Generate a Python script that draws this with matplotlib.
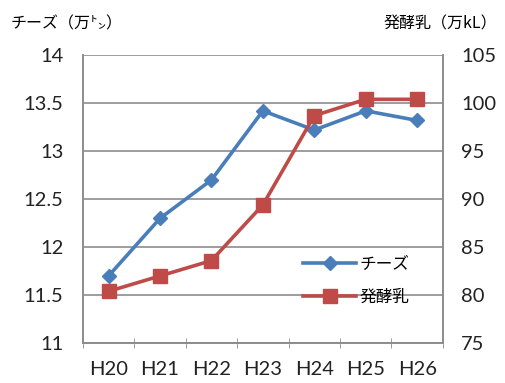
import matplotlib
matplotlib.use('Agg')
import matplotlib.pyplot as plt

plt.rcParams['font.family'] = ['Lato', 'Noto Sans CJK JP', 'DejaVu Sans']

years = ['H20', 'H21', 'H22', 'H23', 'H24', 'H25', 'H26']
cheese = [11.7, 12.3, 12.7, 13.42, 13.22, 13.42, 13.32]  # 万トン
fermented = [80.4, 82.0, 83.6, 89.4, 98.7, 100.4, 100.4]  # 万kL

blue = '#4A7EBB'
red = '#BE4B48'
grid_c = '#8C8C8C'
jp = ['Noto Sans CJK JP', 'DejaVu Sans']

fig = plt.figure(figsize=(5.05, 3.83), dpi=100)
ax = fig.add_axes([0.164, 0.104, 0.713, 0.752])
ax2 = ax.twinx()

x = list(range(len(years)))
l1, = ax.plot(x, cheese, color=blue, lw=2.6, marker='D', ms=7.5,
              markeredgecolor=blue, label='チーズ', zorder=3)
l2, = ax2.plot(x, fermented, color=red, lw=2.6, marker='s', ms=10,
               markeredgecolor=red, label='発酵乳', zorder=3)

ax.set_xlim(-0.5, 6.5)
ax.set_ylim(11, 14)
ax.set_yticks([11, 11.5, 12, 12.5, 13, 13.5, 14])
ax.set_yticklabels(['11', '11.5', '12', '12.5', '13', '13.5', '14'])
ax2.set_ylim(75, 105)
ax2.set_yticks(range(75, 106, 5))

ax.set_xticks(x)
ax.set_xticklabels(years)
ax.set_xticks([i - 0.5 for i in range(len(years) + 1)], minor=True)
ax.tick_params(axis='x', which='major', length=0, pad=13, labelsize=14.5, colors='#222222')
ax.tick_params(axis='x', which='minor', length=7, direction='inout', color=grid_c)
ax.tick_params(axis='y', length=0, pad=14, labelsize=14.5, colors='#222222')
ax2.tick_params(axis='y', length=0, pad=13, labelsize=14.5, colors='#222222')

ax.grid(axis='y', color=grid_c, lw=1.2)
ax.set_axisbelow(True)
for a in (ax, ax2):
    a.spines['top'].set_visible(False)
    for s in ('left', 'right', 'bottom'):
        a.spines[s].set_color(grid_c)
        a.spines[s].set_linewidth(1.2)

fig.text(0.02, 0.925, 'チーズ（万㌧）', fontsize=11.5, family=jp)
fig.text(0.985, 0.925, '発酵乳（万kL）', fontsize=11.5, ha='right', family=jp)

leg = ax.legend(handles=[l1, l2], loc='upper left', bbox_to_anchor=(0.57, 0.355),
                frameon=False, handlelength=3.2, labelspacing=0.95,
                handletextpad=0.2, prop={'family': jp, 'size': 12})

fig.savefig('out.png', dpi=100)
